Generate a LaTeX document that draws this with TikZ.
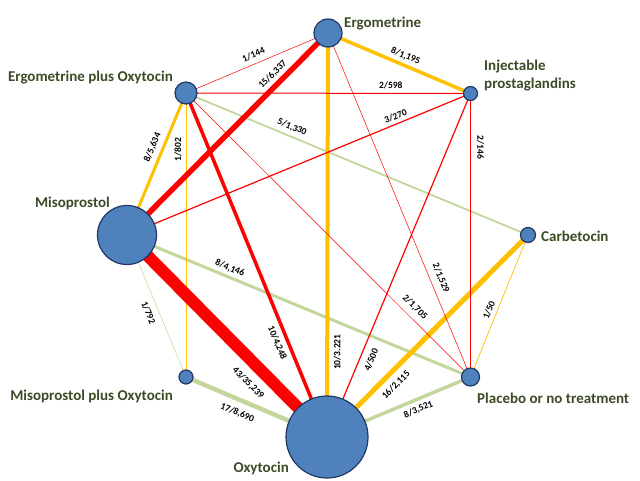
\documentclass[tikz,border=0pt]{standalone}
\usepackage{fontspec}
\setmainfont{Carlito}
\usetikzlibrary{backgrounds}

\definecolor{nodeblue}{HTML}{4F81BD}
\definecolor{nodeedge}{HTML}{1F3864}
\definecolor{linkred}{HTML}{FF0000}
\definecolor{linkorange}{HTML}{FFC000}
\definecolor{linkgreen}{HTML}{C3D69B}
\definecolor{namegreen}{HTML}{3D4A26}

\begin{document}
\begin{tikzpicture}[
  x=1pt, y=-1pt,
  drug/.style={circle, draw=nodeedge, line width=1.2pt, fill=nodeblue, inner sep=0pt, minimum size=#1},
  drugname/.style={font=\fontsize{15}{18}\selectfont\bfseries, text=namegreen, inner sep=0pt},
  redlink/.style={draw=linkred, line width=#1},
  orangelink/.style={draw=linkorange, line width=#1},
  greenlink/.style={draw=linkgreen, line width=#1},
  trials/.style={sloped, anchor=center, inner sep=0pt, yshift=#1, font=\fontsize{9.5}{10}\selectfont\bfseries}
]
\useasboundingbox (0,0) rectangle (640,480);

% Treatments
\node[drug=28pt] (ergo) at (328,33) {};
\node[drug=22pt] (ergoxy) at (186,93) {};
\node[drug=14pt] (inj) at (470.5,93.5) {};
\node[drug=59pt] (miso) at (127,235) {};
\node[drug=15pt] (carb) at (528,235) {};
\node[drug=14pt] (misoxy) at (186,377) {};
\node[drug=18pt] (plac) at (470.5,377) {};
\node[drug=82pt] (oxy) at (327,437) {};

% Names
\node[drugname, anchor=base west] (ergoname) at (344,27) {Ergometrine};
\node[drugname, anchor=base east] (ergoxyname) at (173,81) {Ergometrine plus Oxytocin};
\node[drugname, anchor=base west, align=left] (injname) at (484,88) {Injectable\\prostaglandins};
\node[drugname, anchor=base east] (misoname) at (110,207) {Misoprostol};
\node[drugname, anchor=base west] (carbname) at (541,241) {Carbetocin};
\node[drugname, anchor=base east] (misoxyname) at (173,400) {Misoprostol plus Oxytocin};
\node[drugname, anchor=base west] (placname) at (477,403) {Placebo or no treatment};
\node[drugname, anchor=base east] (oxyname) at (289,472) {Oxytocin};

% Comparisons: trials/participants
\begin{scope}[on background layer]
\draw[greenlink=1.8] (ergoxy.center) -- (carb.center) node[trials=9pt, pos=.30] (t1330) {5/1,330};
\draw[greenlink=3] (miso.center) -- (plac.center) node[trials=8.5pt, pos=.29] (t4146) {8/4,146};
\draw[greenlink=0.5] (miso.center) -- (misoxy.center) node[trials=-10pt, pos=.52] (t792) {1/792};
\draw[greenlink=4.5] (misoxy.center) -- (oxy.center) node[trials=-13pt, pos=.40] (t8690) {17/8,690};
\draw[greenlink=3.5] (oxy.center) -- (plac.center) node[trials=-10pt, pos=.61] (t3521) {8/3,521};

\draw[orangelink=3.5] (ergo.center) -- (inj.center) node[trials=9pt, pos=.52] (t1195) {8/1,195};
\draw[orangelink=4] (oxy.center) -- (ergo.center) node[trials=-10pt, pos=.21] (t3221) {10/3.221};
\draw[orangelink=3] (miso.center) -- (ergoxy.center) node[trials=10pt, pos=.59] (t5634) {8/5,634};
\draw[orangelink=0.8] (misoxy.center) -- (ergoxy.center) node[trials=8pt, pos=.80] (t802) {1/802};
\draw[orangelink=5] (oxy.center) -- (carb.center) node[trials=-12.5pt, pos=.30] (t2115) {16/2,115};
\draw[orangelink=0.7] (plac.center) -- (carb.center) node[trials=8pt, pos=.45] (t50) {1/50};

\draw[redlink=0.5] (ergoxy.center) -- (ergo.center) node[trials=9pt, pos=.50] (t144) {1/144};
\draw[redlink=5.5] (miso.center) -- (ergo.center) node[trials=10pt, pos=.76] (t6337) {15/6,337};
\draw[redlink=1] (ergoxy.center) -- (inj.center) node[trials=8pt, pos=.72] (t598) {2/598};
\draw[redlink=1.2] (miso.center) -- (inj.center) node[trials=7.5pt, pos=.79] (t270) {3/270};
\draw[redlink=3.5] (ergoxy.center) -- (oxy.center) node[trials=-10.5pt, pos=.715] (t4248) {10/4,248};
\draw[redlink=1] (inj.center) -- (plac.center) node[trials=10pt, pos=.19] (t146) {2/146};
\draw[redlink=1.2] (oxy.center) -- (inj.center) node[trials=-11pt, pos=.237] (t500) {4/500};
\draw[redlink=0.5] (ergoxy.center) -- (plac.center) node[trials=10pt, pos=.78] (t1705) {2/1,705};
\draw[redlink=0.5] (ergo.center) -- (plac.center) node[trials=10.5pt, pos=.724] (t1529) {2/1,529};
\draw[redlink=12] (miso.center) -- (oxy.center) node[trials=-18pt, pos=.67] (t35239) {43/35,239};
\end{scope}

\end{tikzpicture}
\end{document}
